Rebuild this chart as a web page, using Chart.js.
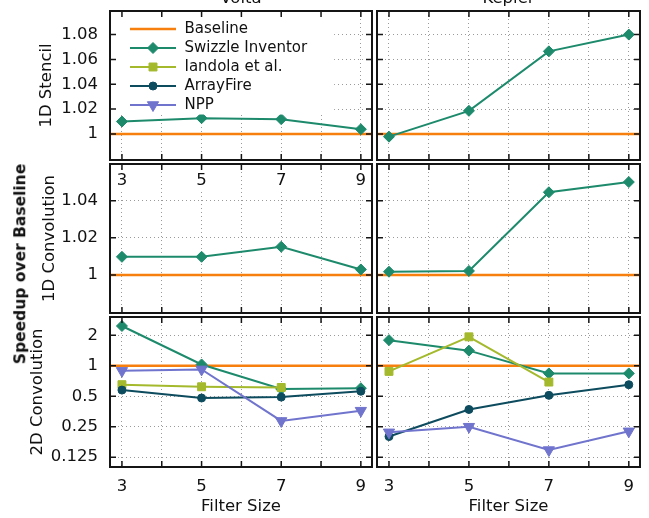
<!DOCTYPE html>
<html>
<head>
<meta charset="utf-8">
<script src="https://cdn.jsdelivr.net/npm/chart.js@4.4.1/dist/chart.umd.min.js"></script>
<style>
  html, body { margin:0; padding:0; background:#ffffff; }
  #wrap { position:relative; width:649px; height:518px; overflow:hidden; background:#fff; }
  canvas { position:absolute; }
  #ylab { position:absolute; left:21px; top:264px; transform:translate(-50%,-50%) rotate(-90deg);
          font:bold 15.5px "DejaVu Sans", sans-serif; white-space:nowrap; line-height:1; color:#111; }
</style>
</head>
<body>
<div id="wrap">
  <canvas id="p00"></canvas><canvas id="p01"></canvas>
  <canvas id="p10"></canvas><canvas id="p11"></canvas>
  <canvas id="p20"></canvas><canvas id="p21"></canvas>
  <div id="ylab">Speedup over Baseline</div>
</div>
<script>
// ---------------- DATA ----------------
const filterSizes = [3, 5, 7, 9];
const architectures = ['Volta', 'Kepler'];
const benchmarks = ['1D Stencil', '1D Convolution', '2D Convolution'];
const seriesNames = ['Baseline', 'Swizzle Inventor', 'Iandola et al.', 'ArrayFire', 'NPP'];
const baselineSpeedup = 1;

const voltaStencilSwizzle   = [1.010, 1.0127, 1.0119, 1.0038];
const keplerStencilSwizzle  = [0.9978, 1.0186, 1.0665, 1.080];

const voltaConv1dSwizzle    = [1.0098, 1.0098, 1.0152, 1.003];
const keplerConv1dSwizzle   = [1.0018, 1.0022, 1.0445, 1.050];

const voltaConv2dSwizzle    = [2.47, 1.03, 0.59, 0.60];
const voltaConv2dIandola    = [0.65, 0.62, 0.61, null];
const voltaConv2dArrayFire  = [0.575, 0.48, 0.49, 0.56];
const voltaConv2dNPP        = [0.89, 0.92, 0.285, 0.36];

const keplerConv2dSwizzle   = [1.79, 1.41, 0.84, 0.84];
const keplerConv2dIandola   = [0.88, 1.93, 0.69, null];
const keplerConv2dArrayFire = [0.20, 0.37, 0.51, 0.65];
const keplerConv2dNPP       = [0.22, 0.25, 0.147, 0.225];

const xTickValues = [3, 4, 5, 6, 7, 8, 9];
const stencilTicks = [1, 1.02, 1.04, 1.06, 1.08];
const stencilTickLabels = ['1', '1.02', '1.04', '1.06', '1.08'];
const conv1dTicks = [1, 1.02, 1.04];
const conv1dTickLabels = ['1', '1.02', '1.04'];
const conv2dTicks = [0.125, 0.25, 0.5, 1, 2];
const conv2dTickLabels = ['0.125', '0.25', '0.5', '1', '2'];
const xAxisTitle = 'Filter Size';

// series per panel: [row][col] -> {seriesIndex: values}
const panelSeries = [
  [ {1: voltaStencilSwizzle}, {1: keplerStencilSwizzle} ],
  [ {1: voltaConv1dSwizzle},  {1: keplerConv1dSwizzle} ],
  [ {1: voltaConv2dSwizzle, 2: voltaConv2dIandola, 3: voltaConv2dArrayFire, 4: voltaConv2dNPP},
    {1: keplerConv2dSwizzle, 2: keplerConv2dIandola, 3: keplerConv2dArrayFire, 4: keplerConv2dNPP} ]
];

// ---------------- AXES / STYLE ----------------
const X_MIN = 2.7, X_MAX = 9.28;
const rowAxes = [
  { type: 'linear', min: 0.979, max: 1.099, ticks: stencilTicks, labels: stencilTickLabels, titlePad: 37 },
  { type: 'linear', min: 0.9796, max: 1.0597, ticks: conv1dTicks, labels: conv1dTickLabels, titlePad: 40 },
  { type: 'logarithmic', min: 0.1, max: 3.03, ticks: conv2dTicks, labels: conv2dTickLabels, titlePad: 28 }
];
const seriesStyles = [
  { color: '#f77f0e', point: false,      radius: 0,   width: 2.5 },
  { color: '#1d8a6c', point: 'rectRot',  radius: 5.5, width: 2 },
  { color: '#a4b92c', point: 'rect',     radius: 5.6, width: 2 },
  { color: '#0d4b5e', point: 'circle',   radius: 4,   width: 2 },
  { color: '#7074cd', point: 'triangle', radius: 6.5, width: 2, rotation: 180 }
];
const colGeom = [
  { left: 0,   width: 380, padL: 0, padR: 8, yWidth: 110 },
  { left: 372, width: 277, padL: 5, padR: 9, yWidth: 0 }
];
const rowGeom = [
  { top: -22, height: 184, padT: 0, padB: 2, xHeight: 0 },
  { top: 162, height: 153, padT: 2, padB: 2, xHeight: 0 },
  { top: 315, height: 203, padT: 2, padB: 0, xHeight: 51 }
];
const FONT = '"DejaVu Sans", sans-serif';
const TXT = '#111111';
const GRID = '#9a9a9a';

Chart.defaults.font.family = FONT;
Chart.defaults.color = TXT;
Chart.defaults.animation = false;

function legendSample(i) {
  const s = seriesStyles[i];
  const c = document.createElement('canvas');
  c.width = 46; c.height = 16;
  const g = c.getContext('2d');
  g.strokeStyle = s.color; g.lineWidth = s.width;
  g.beginPath(); g.moveTo(0, 8); g.lineTo(46, 8); g.stroke();
  if (s.point) {
    g.fillStyle = s.color; g.strokeStyle = s.color; g.lineWidth = 1;
    if (Chart.helpers && Chart.helpers.drawPoint) {
      Chart.helpers.drawPoint(g, { pointStyle: s.point, radius: s.radius, rotation: s.rotation || 0, borderWidth: 1 }, 23, 8);
    } else {
      g.beginPath(); g.arc(23, 8, s.radius * 0.8, 0, Math.PI * 2); g.fill();
    }
  }
  return c;
}
const legendSamples = seriesNames.map((n, i) => legendSample(i));

function zeroPadding(s) { s.paddingTop = 0; s.paddingBottom = 0; s.paddingLeft = 0; s.paddingRight = 0; }

// ---------------- PLUGINS ----------------
const framePlugin = {
  id: 'frame',
  afterDraw(chart) {
    const ctx = chart.ctx, ca = chart.chartArea;
    const xs = chart.scales.x, ys = chart.scales.y;
    ctx.save();
    ctx.strokeStyle = '#151515';
    ctx.lineWidth = 1.5;
    ctx.beginPath();
    xs.ticks.forEach(t => {
      const px = xs.getPixelForValue(t.value);
      ctx.moveTo(px, ca.top); ctx.lineTo(px, ca.top + 6);
      ctx.moveTo(px, ca.bottom); ctx.lineTo(px, ca.bottom - 6);
    });
    ys.ticks.forEach(t => {
      const py = ys.getPixelForValue(t.value);
      ctx.moveTo(ca.left, py); ctx.lineTo(ca.left + 6, py);
      ctx.moveTo(ca.right, py); ctx.lineTo(ca.right - 6, py);
    });
    ctx.stroke();
    ctx.lineWidth = 2;
    ctx.strokeRect(ca.left, ca.top, ca.right - ca.left, ca.bottom - ca.top);
    ctx.restore();
  }
};

const legendOverlay = {
  id: 'legendOverlay',
  afterLayout(chart) {
    const lg = chart.legend, ca = chart.chartArea;
    if (!lg) return;
    lg.left = ca.left + 15;
    lg.top = ca.top + 6.5;
    lg.right = ca.right;
    lg.bottom = ca.bottom;
  },
  afterDatasetsDraw(chart) {
    const lg = chart.legend, ca = chart.chartArea, ctx = chart.ctx;
    if (!lg) return;
    ctx.save();
    ctx.font = '15px ' + FONT;
    let mw = 0;
    seriesNames.forEach(n => { mw = Math.max(mw, ctx.measureText(n).width); });
    const pad = 4;
    const textX = lg.left + pad + 48 + 7.5;
    const right = textX + mw + 27;
    const bottom = lg.top + pad + seriesNames.length * 19 - 2;
    ctx.fillStyle = '#ffffff';
    ctx.fillRect(ca.left + 1, ca.top + 1, right - ca.left - 1, bottom - ca.top - 1);
    ctx.restore();
    lg.draw();
  }
};

const innerLabels = {
  id: 'innerLabels',
  afterDatasetsDraw(chart) {
    const ctx = chart.ctx, ca = chart.chartArea, xs = chart.scales.x;
    ctx.save();
    ctx.font = '16.5px ' + FONT;
    ctx.textAlign = 'center';
    ctx.textBaseline = 'middle';
    const y = ca.top + 17;
    filterSizes.forEach(v => {
      const px = xs.getPixelForValue(v);
      const w = ctx.measureText(String(v)).width;
      ctx.fillStyle = '#ffffff';
      ctx.fillRect(px - w / 2 - 1, y - 9, w + 2, 18);
      ctx.fillStyle = TXT;
      ctx.fillText(String(v), px, y);
    });
    ctx.restore();
  }
};

// ---------------- CHARTS ----------------
function makeChart(row, col) {
  const canvas = document.getElementById('p' + row + col);
  const cg = colGeom[col], rg = rowGeom[row], ax = rowAxes[row];
  canvas.width = cg.width; canvas.height = rg.height;
  canvas.style.left = cg.left + 'px'; canvas.style.top = rg.top + 'px';
  canvas.style.width = cg.width + 'px'; canvas.style.height = rg.height + 'px';

  const datasets = [{
    label: seriesNames[0],
    data: [{ x: X_MIN, y: baselineSpeedup }, { x: X_MAX, y: baselineSpeedup }],
    borderColor: seriesStyles[0].color, backgroundColor: seriesStyles[0].color,
    borderWidth: seriesStyles[0].width, pointRadius: 0, order: 5
  }];
  const series = panelSeries[row][col];
  Object.keys(series).forEach(k => {
    const idx = +k, st = seriesStyles[idx], vals = series[k];
    datasets.push({
      label: seriesNames[idx],
      data: filterSizes.map((fs, i) => ({ x: fs, y: vals[i] })),
      borderColor: st.color, backgroundColor: st.color,
      pointBackgroundColor: st.color, pointBorderColor: st.color,
      borderWidth: st.width, pointStyle: st.point, pointRadius: st.radius,
      pointRotation: st.rotation || 0, pointBorderWidth: 1,
      tension: 0, order: 5 - idx
    });
  });

  const plugins = [framePlugin];
  if (row === 0 && col === 0) plugins.unshift(legendOverlay);
  if (row === 1 && col === 0) plugins.unshift(innerLabels);

  return new Chart(canvas, {
    type: 'line',
    data: { datasets },
    options: {
      responsive: false,
      animation: false,
      events: [],
      layout: { autoPadding: false, padding: { left: cg.padL, right: cg.padR, top: rg.padT, bottom: rg.padB } },
      scales: {
        x: {
          type: 'linear', min: X_MIN, max: X_MAX, position: 'bottom',
          afterBuildTicks: s => { s.ticks = xTickValues.map(v => ({ value: v })); },
          afterFit: s => { s.height = rg.xHeight; zeroPadding(s); },
          ticks: {
            display: row === 2, autoSkip: false, maxRotation: 0, padding: 10,
            font: { size: 16.5 }, color: TXT,
            callback: v => (filterSizes.includes(v) ? String(v) : '')
          },
          grid: { display: true, drawTicks: false, color: GRID, lineWidth: 1 },
          border: { display: false, dash: [1, 3] },
          title: { display: row === 2, text: xAxisTitle, font: { size: 16.5 }, color: TXT, padding: { top: 0, bottom: 1 } }
        },
        y: {
          type: ax.type, min: ax.min, max: ax.max, position: 'left',
          afterBuildTicks: s => { s.ticks = ax.ticks.map(v => ({ value: v })); },
          afterFit: s => { s.width = cg.yWidth; zeroPadding(s); },
          ticks: {
            display: col === 0, autoSkip: false, padding: 12,
            font: { size: 16.5 }, color: TXT,
            callback: (v, i) => ax.labels[i]
          },
          grid: { display: true, drawTicks: false, color: GRID, lineWidth: 1 },
          border: { display: false, dash: [1, 3] },
          title: { display: col === 0, text: benchmarks[row], font: { size: 16.5 }, color: TXT, padding: { top: ax.titlePad, bottom: 0 } }
        }
      },
      plugins: {
        tooltip: { enabled: false },
        title: {
          display: row === 0, text: architectures[col], fullSize: false,
          font: { size: 16.5, weight: 'normal' }, color: TXT,
          padding: { top: 10.6, bottom: 2.6 }
        },
        legend: {
          display: row === 0 && col === 0,
          position: 'chartArea', align: 'start',
          labels: {
            usePointStyle: true, pointStyleWidth: 48, padding: 4,
            font: { size: 15 }, color: TXT,
            generateLabels: () => seriesNames.map((name, i) => ({
              text: name, pointStyle: legendSamples[i],
              fillStyle: seriesStyles[i].color, strokeStyle: seriesStyles[i].color,
              lineWidth: 0, hidden: false, datasetIndex: i, fontColor: TXT
            }))
          }
        }
      }
    },
    plugins
  });
}

for (let r = 0; r < 3; r++) for (let c = 0; c < 2; c++) makeChart(r, c);
</script>
</body>
</html>
